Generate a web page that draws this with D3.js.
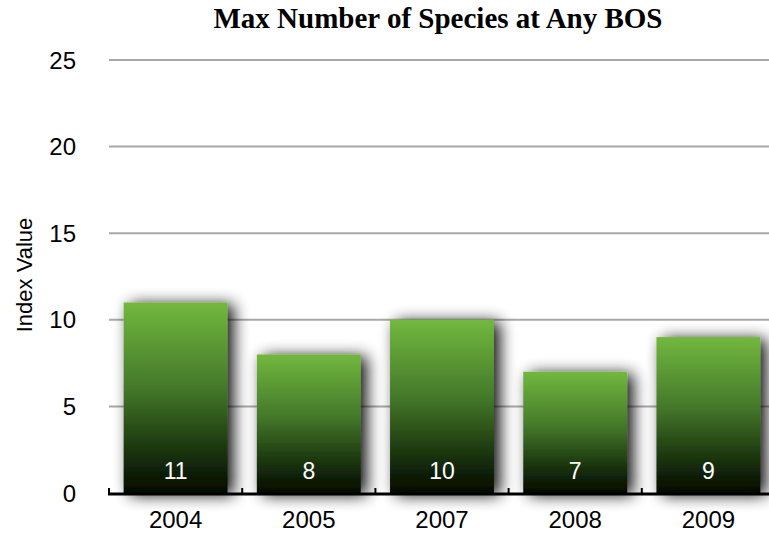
<!DOCTYPE html>
<html>
<head>
<meta charset="utf-8">
<script src="https://cdn.jsdelivr.net/npm/d3@7/dist/d3.min.js"></script>
<style>
  html, body { margin: 0; padding: 0; background: #fff; }
  svg { display: block; }
</style>
</head>
<body>
<svg id="chart" width="769" height="535"></svg>
<script>
// Chart data
const years = ["2004", "2005", "2007", "2008", "2009"];
const values = [11, 8, 10, 7, 9];
const yTicks = [0, 5, 10, 15, 20, 25];
const titleText = "Max Number of Species at Any BOS";
const yAxisTitle = "Index Value";

const W = 769, H = 535;
const sans = "Liberation Sans, Arial, sans-serif";
const svg = d3.select("#chart");

const x = d3.scaleBand().domain(years).range([109, 775]).paddingInner(0.22).paddingOuter(0.11);
const y = d3.scaleLinear().domain([0, 25]).range([493, 60]);

const defs = svg.append("defs");
const grad = defs.append("linearGradient")
  .attr("id", "barGrad").attr("x1", 0).attr("y1", 0).attr("x2", 0).attr("y2", 1);
grad.append("stop").attr("offset", "0%").attr("stop-color", "#72b83e");
grad.append("stop").attr("offset", "45%").attr("stop-color", "#44782a");
grad.append("stop").attr("offset", "80%").attr("stop-color", "#18300c");
grad.append("stop").attr("offset", "100%").attr("stop-color", "#040a00");

const shadow = defs.append("filter").attr("id", "shadow")
  .attr("x", "-30%").attr("y", "-30%").attr("width", "170%").attr("height", "160%");
shadow.append("feGaussianBlur").attr("in", "SourceAlpha").attr("stdDeviation", 8).attr("result", "b");
shadow.append("feOffset").attr("in", "b").attr("dx", 6).attr("dy", 2).attr("result", "o");
shadow.append("feComponentTransfer").attr("in", "o").attr("result", "s")
  .append("feFuncA").attr("type", "linear").attr("slope", 0.95);
const merge = shadow.append("feMerge");
merge.append("feMergeNode").attr("in", "s");
merge.append("feMergeNode").attr("in", "SourceGraphic");

// Horizontal gridlines
svg.append("g").selectAll("line").data(yTicks.filter(d => d > 0)).join("line")
  .attr("x1", 109).attr("x2", W)
  .attr("y1", d => y(d)).attr("y2", d => y(d))
  .attr("stroke", "#a8a8a8").attr("stroke-width", 2);

// Y tick labels
svg.append("g").selectAll("text").data(yTicks).join("text")
  .attr("x", 76).attr("y", d => y(d)).attr("dy", "0.36em")
  .attr("text-anchor", "end")
  .attr("font-family", sans)
  .attr("font-size", 24).attr("fill", "#000")
  .text(d => d);

// Y axis title
svg.append("text")
  .attr("transform", `translate(32, 275) rotate(-90)`)
  .attr("text-anchor", "middle")
  .attr("font-family", sans)
  .attr("font-size", 22).attr("fill", "#000")
  .text(yAxisTitle);

// Bars
svg.append("g").selectAll("rect").data(values).join("rect")
  .attr("x", (d, i) => x(years[i]))
  .attr("y", d => y(d))
  .attr("width", x.bandwidth())
  .attr("height", d => y(0) - y(d))
  .attr("fill", "url(#barGrad)")
  .attr("filter", "url(#shadow)");

// Value labels inside bars
svg.append("g").selectAll("text").data(values).join("text")
  .attr("x", (d, i) => x(years[i]) + x.bandwidth() / 2)
  .attr("y", 479)
  .attr("text-anchor", "middle")
  .attr("font-family", sans)
  .attr("font-size", 23).attr("fill", "#fff")
  .text(d => d);

// X axis baseline and ticks at band boundaries
svg.append("line")
  .attr("x1", 108).attr("x2", W).attr("y1", y(0) + 1).attr("y2", y(0) + 1)
  .attr("stroke", "#000").attr("stroke-width", 3);
const step = x.step();
const bounds = d3.range(years.length + 1).map(i => x(years[0]) - step * x.paddingInner() / 2 + i * step);
svg.append("g").selectAll("line").data(bounds).join("line")
  .attr("x1", d => d).attr("x2", d => d)
  .attr("y1", y(0) - 5).attr("y2", y(0) + 1)
  .attr("stroke", "#000").attr("stroke-width", 2);

// X tick labels
svg.append("g").selectAll("text").data(years).join("text")
  .attr("x", d => x(d) + x.bandwidth() / 2)
  .attr("y", 528)
  .attr("text-anchor", "middle")
  .attr("font-family", sans)
  .attr("font-size", 24).attr("fill", "#000")
  .text(d => d);

// Title
svg.append("text")
  .attr("x", 438).attr("y", 28)
  .attr("text-anchor", "middle")
  .attr("font-family", "Liberation Serif, Times New Roman, serif")
  .attr("font-weight", "bold")
  .attr("font-size", 29).attr("fill", "#000")
  .text(titleText);
</script>
</body>
</html>
